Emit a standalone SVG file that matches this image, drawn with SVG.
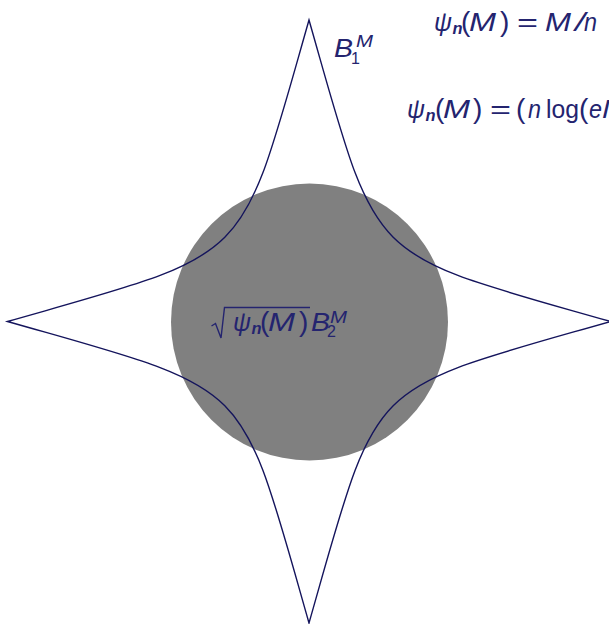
<svg xmlns="http://www.w3.org/2000/svg" width="609" height="624" viewBox="0 0 609 624">
<style>
text{font-family:"Liberation Sans","DejaVu Sans",sans-serif;fill:#24246f;font-size:25px}
.i{font-style:italic}
.s{font-size:17px;font-style:italic;font-weight:bold}
.p{font-size:16px}
.b{font-size:28px}
.line{fill:none;stroke:#14145c;stroke-width:1.4}
</style>
<rect width="609" height="624" fill="#ffffff"/>
<g id="ball2">
<circle cx="309.5" cy="322" r="138.5" fill="#808080"/>
</g>
<g id="connectors">
<path id="ball1" class="line" d="M7.5,321.5 C256,250.5 238,268.5 309,20 C380,268.5 362,250.5 610.5,321.5 C362,392.5 380,374.5 309,623 C238,374.5 256,392.5 7.5,321.5 Z"/>
</g>
<g id="label-b1">
<text class="i" x="334" y="56.5" textLength="19" lengthAdjust="spacingAndGlyphs">B</text>
<text class="p" x="351" y="64">1</text>
<text class="p i" x="356" y="46.5" textLength="17" lengthAdjust="spacingAndGlyphs">M</text>
</g>
<g id="label-b2">
<path d="M211.5,326 L215.5,323.5 L221,338 L224.5,307.5 L310,307.5" fill="none" stroke="#24246f" stroke-width="1.4"/>
<text class="i" x="233" y="331" textLength="18" lengthAdjust="spacingAndGlyphs">ψ</text>
<text class="s" x="251.5" y="334" textLength="10" lengthAdjust="spacingAndGlyphs">n</text>
<text class="b" x="260" y="331">(</text>
<text class="i" x="268" y="331" textLength="27" lengthAdjust="spacingAndGlyphs">M</text>
<text class="b" x="299" y="331">)</text>
<text class="i" x="311" y="331" textLength="19" lengthAdjust="spacingAndGlyphs">B</text>
<text class="p" x="327" y="337">2</text>
<text class="p i" x="330" y="323" textLength="17" lengthAdjust="spacingAndGlyphs">M</text>
</g>
<g id="eq1">
<text class="i" x="434" y="31" textLength="18" lengthAdjust="spacingAndGlyphs">ψ</text>
<text class="s" x="452.5" y="34" textLength="10" lengthAdjust="spacingAndGlyphs">n</text>
<text class="b" x="461" y="31">(</text>
<text class="i" x="469" y="31" textLength="27" lengthAdjust="spacingAndGlyphs">M</text>
<text class="b" x="500" y="31">)</text>
<text x="517" y="31" textLength="21" lengthAdjust="spacingAndGlyphs">=</text>
<text class="i" x="545" y="31" textLength="26" lengthAdjust="spacingAndGlyphs">M</text>
<text class="i" x="575" y="31" textLength="10" lengthAdjust="spacingAndGlyphs">/</text>
<text class="i" x="584" y="31" textLength="13" lengthAdjust="spacingAndGlyphs">n</text>
</g>
<g id="eq2">
<text class="i" x="407" y="118" textLength="18" lengthAdjust="spacingAndGlyphs">ψ</text>
<text class="s" x="425.5" y="121" textLength="10" lengthAdjust="spacingAndGlyphs">n</text>
<text class="b" x="435" y="118">(</text>
<text class="i" x="443" y="118" textLength="27" lengthAdjust="spacingAndGlyphs">M</text>
<text class="b" x="473" y="118">)</text>
<text x="490" y="118" textLength="21" lengthAdjust="spacingAndGlyphs">=</text>
<text class="b" x="516" y="118">(</text>
<text class="i" x="528" y="118" textLength="13" lengthAdjust="spacingAndGlyphs">n</text>
<text x="546" y="118" textLength="33" lengthAdjust="spacingAndGlyphs">log</text>
<text class="b" x="579" y="118">(</text>
<text class="i" x="589" y="118" textLength="13" lengthAdjust="spacingAndGlyphs">e</text>
<text class="i" x="602" y="118" textLength="26" lengthAdjust="spacingAndGlyphs">M</text>
</g>
</svg>
